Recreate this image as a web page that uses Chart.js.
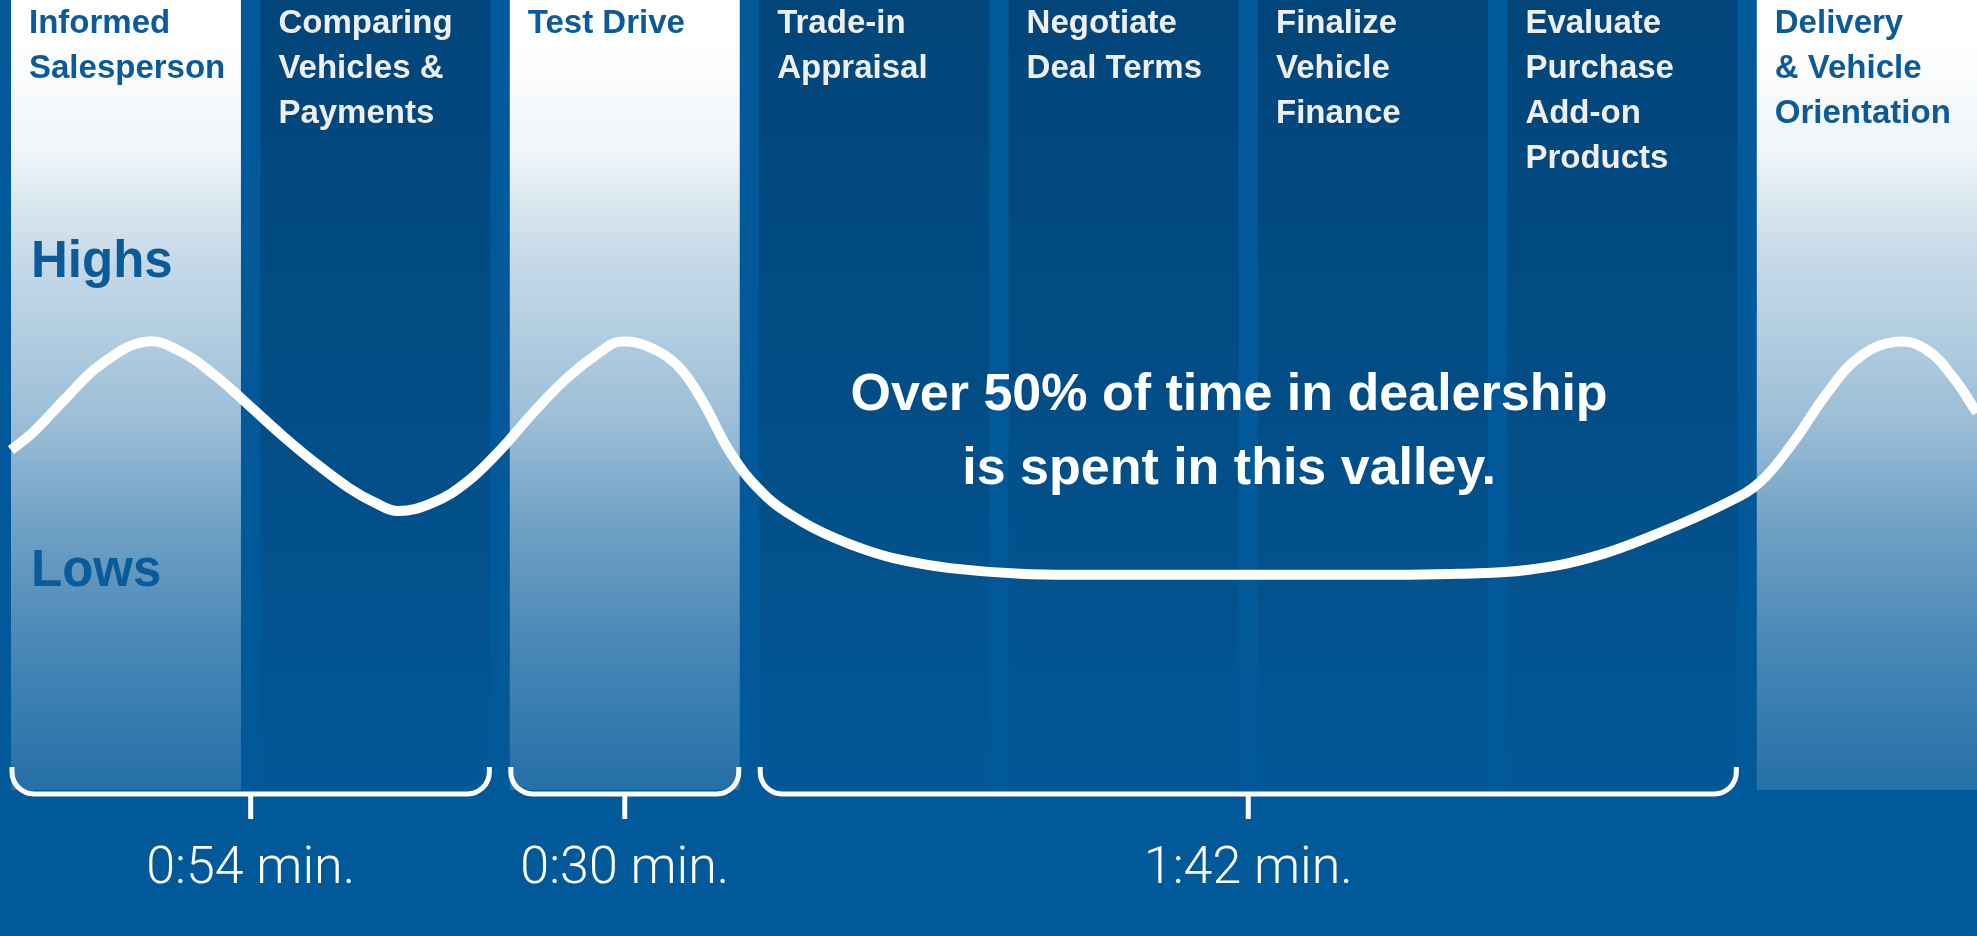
<!DOCTYPE html>
<html><head><meta charset="utf-8">
<script src="https://cdn.jsdelivr.net/npm/chart.js@4.4.1/dist/chart.umd.min.js"></script>
<style>
html,body{margin:0;padding:0;background:#02599a;overflow:hidden}
#wrap{width:1977px;height:936px;position:relative}
canvas{display:block}
</style></head>
<body><div id="wrap"><canvas id="c" width="1977" height="936"></canvas></div>
<script>
// ---- data ----
const stageNames = [
  ["Informed", "Salesperson"],
  ["Comparing", "Vehicles &", "Payments"],
  ["Test Drive"],
  ["Trade-in", "Appraisal"],
  ["Negotiate", "Deal Terms"],
  ["Finalize", "Vehicle", "Finance"],
  ["Evaluate", "Purchase", "Add-on", "Products"],
  ["Delivery", "& Vehicle", "Orientation"]
];
const stageTones = ["light", "dark", "light", "dark", "dark", "dark", "dark", "light"];
const columnLow = 15.6;   // level where the stage columns end
const columnHigh = 100;

// emotion curve: x in stage units, y = emotional level (0-100)
const curveX = [0, 0.088, 0.225, 0.357, 0.541, 0.690, 0.826, 0.958, 1.091, 1.227, 1.359, 1.459, 1.552,
  1.692, 1.828, 1.961, 2.093, 2.229, 2.362, 2.442, 2.562, 2.670, 2.763, 2.895, 3.031, 3.164,
  3.296, 3.432, 3.565, 3.765, 4.046, 4.366, 4.968, 5.569, 5.810, 6.079, 6.343, 6.612, 6.881,
  7.013, 7.145, 7.282, 7.414, 7.566, 7.682, 7.787, 7.883];
const curveY = [51.9, 53.8, 57.6, 61.0, 63.5, 62.3, 59.7, 56.6, 53.4, 50.4, 47.8, 46.3, 45.4,
  46.3, 48.5, 51.9, 55.9, 59.6, 62.4, 63.5, 62.9, 61.0, 57.6, 51.2, 46.9, 44.4,
  42.6, 41.2, 40.2, 39.3, 38.7, 38.6, 38.6, 38.6, 38.7, 39.1, 40.5, 43.1, 46.3,
  48.5, 52.7, 58.0, 61.9, 63.5, 62.6, 59.7, 55.9];

const levelLabels = ["Highs", "Lows"];
const levelValues = [70.4, 37.4];

const bracketFrom = [0, 2, 3];
const bracketTo = [1, 2, 6];
const durationLabels = ["0:54 min.", "0:30 min.", "1:42 min."];

const noteLines = ["Over 50% of time in dealership", "is spent in this valley."];
const noteX = 4.884;
const noteY = 56.2;

// ---- styling helpers ----
const COL_FRAC = 0.922;
const BG = '#02599a';

function columnFill(ctx) {
  const chart = ctx.chart;
  const area = chart.chartArea;
  if (!area) return null;
  const y = chart.scales.y;
  const top = y.getPixelForValue(columnHigh);
  const bot = y.getPixelForValue(columnLow);
  const g = chart.ctx.createLinearGradient(0, top, 0, bot);
  const tone = stageTones[ctx.dataIndex];
  if (tone === 'light') {
    const stops = [[0, 1], [0.05, 1], [0.19, 0.94], [0.32, 0.78], [0.38, 0.735], [0.53, 0.61],
      [0.68, 0.42], [0.81, 0.285], [0.97, 0.16], [1, 0.14]];
    stops.forEach(s => g.addColorStop(s[0], 'rgba(255,255,255,' + s[1] + ')'));
  } else {
    g.addColorStop(0, '#01457a');
    g.addColorStop(0.5, '#024d86');
    g.addColorStop(1, '#025897');
  }
  return g;
}

const bgPlugin = {
  id: 'bg',
  beforeDraw(chart) {
    const c = chart.ctx;
    c.save();
    c.fillStyle = BG;
    c.fillRect(0, 0, chart.width, chart.height);
    c.restore();
  }
};

const overlayPlugin = {
  id: 'overlay',
  afterDatasetsDraw(chart) {
    const c = chart.ctx;
    const x = chart.scales.x, y = chart.scales.y;
    c.save();
    c.textBaseline = 'alphabetic';
    // stage headers
    c.textAlign = 'left';
    c.font = 'bold 33px "Liberation Sans", Arial, sans-serif';
    stageNames.forEach((lines, i) => {
      c.fillStyle = stageTones[i] === 'light' ? '#0b5a9a' : '#efefef';
      const px = x.getPixelForValue(i) + 18;
      lines.forEach((t, k) => c.fillText(t, px, 33 + k * 45));
    });
    // level labels
    c.font = 'bold 51px "Liberation Sans", Arial, sans-serif';
    c.fillStyle = '#0b5a9a';
    levelLabels.forEach((t, k) => c.fillText(t, x.getPixelForValue(0) + 20, y.getPixelForValue(levelValues[k])));
    // note
    c.textAlign = 'center';
    c.fillStyle = '#ffffff';
    c.font = 'bold 52px "Liberation Sans", Arial, sans-serif';
    const nx = x.getPixelForValue(noteX), ny = y.getPixelForValue(noteY);
    noteLines.forEach((t, k) => c.fillText(t, nx, ny + k * 74));
    // brackets
    const colBot = y.getPixelForValue(columnLow);
    const yTop = colBot - 23, yLine = colBot + 4, r = 22;
    c.strokeStyle = '#ffffff';
    c.lineWidth = 5;
    c.lineCap = 'butt';
    c.font = '300 52px Roboto, "Liberation Sans", sans-serif';
    bracketFrom.forEach((f, k) => {
      const x0 = x.getPixelForValue(f) + 1;
      const x1 = x.getPixelForValue(bracketTo[k] + COL_FRAC) - 1;
      c.beginPath();
      c.moveTo(x0, yTop);
      c.lineTo(x0, yLine - r);
      c.arcTo(x0, yLine, x0 + r, yLine, r);
      c.lineTo(x1 - r, yLine);
      c.arcTo(x1, yLine, x1, yLine - r, r);
      c.lineTo(x1, yTop);
      c.stroke();
      const cx = (x0 + x1) / 2;
      c.beginPath();
      c.moveTo(cx, yLine);
      c.lineTo(cx, yLine + 25);
      c.stroke();
      c.fillText(durationLabels[k], cx, colBot + 93);
    });
    c.restore();
  }
};

const columnData = stageNames.map((_, i) => ({ x: i + COL_FRAC / 2, y: [columnLow, columnHigh] }));
const curveData = curveX.map((v, i) => ({ x: v, y: curveY[i] }));

new Chart(document.getElementById('c'), {
  type: 'bar',
  data: {
    datasets: [
      {
        type: 'line',
        data: curveData,
        borderColor: '#ffffff',
        borderWidth: 10,
        pointRadius: 0,
        tension: 0.4,
        fill: false,
        order: 0
      },
      {
        type: 'bar',
        data: columnData,
        backgroundColor: columnFill,
        borderWidth: 0,
        categoryPercentage: 1,
        barPercentage: COL_FRAC,
        order: 1
      }
    ]
  },
  options: {
    responsive: false,
    animation: false,
    devicePixelRatio: 1,
    layout: { padding: 0 },
    plugins: { legend: { display: false }, tooltip: { enabled: false } },
    scales: {
      x: {
        type: 'linear', display: false, offset: false,
        min: -11 / 249.4, max: 7.883,
        ticks: { stepSize: 1, includeBounds: false },
        grid: { display: false, offset: false }
      },
      y: {
        type: 'linear', display: false,
        min: 0, max: 100,
        grid: { display: false }
      }
    }
  },
  plugins: [bgPlugin, overlayPlugin]
});
</script>
</body></html>
